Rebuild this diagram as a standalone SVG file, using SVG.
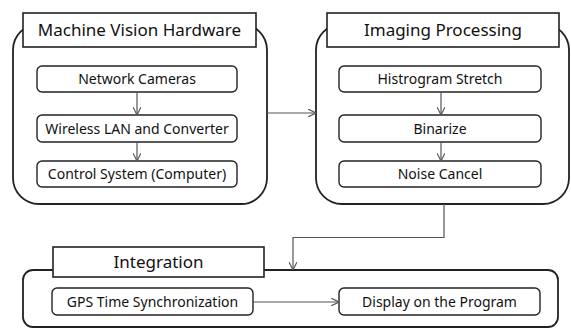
<svg xmlns="http://www.w3.org/2000/svg" width="571" height="328" viewBox="0 0 571 328">
  <defs>
    <style>
      .outer { fill: #fff; stroke: #222; stroke-width: 1.8; }
      .title { fill: #fff; stroke: #222; stroke-width: 1.6; }
      .step { fill: #fff; stroke: #222; stroke-width: 1.4; }
      .ttl { font-family: "Noto Sans", "DejaVu Sans", sans-serif; font-size: 17px; fill: #111; text-anchor: middle; }
      .lbl { font-family: "Noto Sans", "DejaVu Sans", sans-serif; font-size: 14px; fill: #111; text-anchor: middle; }
      .conn { fill: none; stroke: #555; stroke-width: 1.2; }
    </style>
    <marker id="arrow" viewBox="0 0 10 10" refX="10" refY="5" markerWidth="8" markerHeight="8" markerUnits="userSpaceOnUse" orient="auto">
      <path d="M0,0 L10,5 L0,10" fill="none" stroke="#555" stroke-width="1.4"/>
    </marker>
  </defs>

  <rect width="571" height="328" fill="#fff"/>

  <g id="machine-vision-hardware">
    <rect class="outer" x="13" y="24" width="254" height="180" rx="26"/>
    <rect class="title" x="23" y="13" width="233" height="34"/>
    <text class="ttl" x="139.5" y="36">Machine Vision Hardware</text>
  </g>
  <g id="network-cameras">
    <rect class="step" x="37" y="66" width="200" height="26" rx="5"/>
    <text class="lbl" x="137" y="84">Network Cameras</text>
  </g>
  <g id="wireless-lan">
    <rect class="step" x="37" y="115" width="200" height="27" rx="5"/>
    <text class="lbl" x="137" y="133.5">Wireless LAN and Converter</text>
  </g>
  <g id="control-system">
    <rect class="step" x="37" y="161" width="200" height="26" rx="5"/>
    <text class="lbl" x="137" y="179">Control System (Computer)</text>
  </g>

  <g id="imaging-processing">
    <rect class="outer" x="316" y="24" width="253" height="180" rx="26"/>
    <rect class="title" x="327" y="13" width="232" height="34"/>
    <text class="ttl" x="443" y="36">Imaging Processing</text>
  </g>
  <g id="histogram-stretch">
    <rect class="step" x="339" y="66" width="202" height="26" rx="5"/>
    <text class="lbl" x="440" y="84">Histrogram Stretch</text>
  </g>
  <g id="binarize">
    <rect class="step" x="339" y="115" width="202" height="27" rx="5"/>
    <text class="lbl" x="440" y="133.5">Binarize</text>
  </g>
  <g id="noise-cancel">
    <rect class="step" x="339" y="161" width="202" height="26" rx="5"/>
    <text class="lbl" x="440" y="179">Noise Cancel</text>
  </g>

  <g id="integration">
    <rect class="outer" x="23" y="270" width="535" height="57" rx="10"/>
    <rect class="title" x="53" y="247" width="211" height="30"/>
    <text class="ttl" x="158.5" y="268">Integration</text>
  </g>
  <g id="gps-sync">
    <rect class="step" x="52" y="288" width="201" height="27" rx="5"/>
    <text class="lbl" x="152.5" y="306.5">GPS Time Synchronization</text>
  </g>
  <g id="display-program">
    <rect class="step" x="339" y="288" width="201" height="27" rx="5"/>
    <text class="lbl" x="439.5" y="306.5">Display on the Program</text>
  </g>

  <g id="connectors">
    <line class="conn" x1="137" y1="92" x2="137" y2="115" marker-end="url(#arrow)"/>
    <line class="conn" x1="137" y1="142" x2="137" y2="161" marker-end="url(#arrow)"/>
    <line class="conn" x1="441" y1="92" x2="441" y2="115" marker-end="url(#arrow)"/>
    <line class="conn" x1="441" y1="142" x2="441" y2="161" marker-end="url(#arrow)"/>
    <line class="conn" x1="267" y1="113" x2="316" y2="113" marker-end="url(#arrow)"/>
    <polyline class="conn" points="444,204 444,237.5 293,237.5 293,270" marker-end="url(#arrow)"/>
    <line class="conn" x1="253" y1="302" x2="339" y2="302" marker-end="url(#arrow)"/>
  </g>
</svg>
